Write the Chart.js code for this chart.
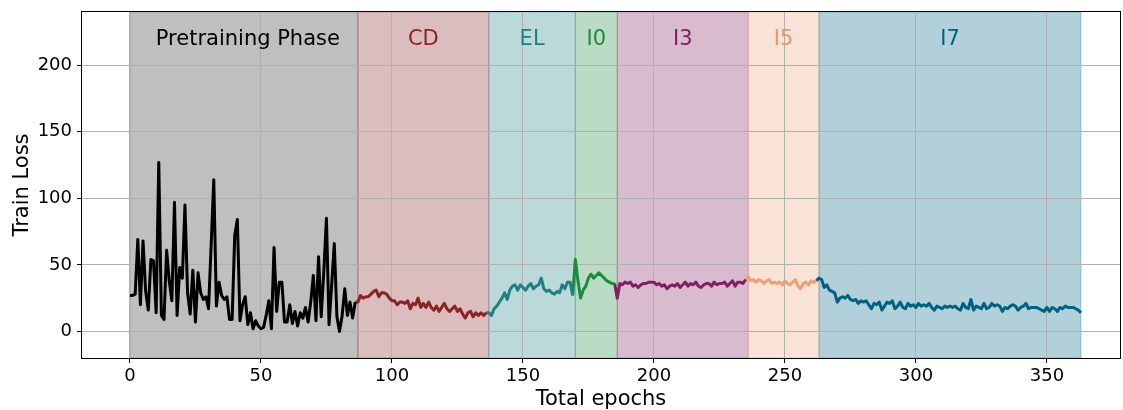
<!DOCTYPE html>
<html>
<head>
<meta charset="utf-8">
<script src="https://cdn.jsdelivr.net/npm/chart.js@4"></script>
<style>
html, body { margin: 0; padding: 0; background: #fff; }
</style>
</head>
<body>
<canvas id="myChart" width="1123" height="410"></canvas>
<script>
// phases of training
const phaseNames = ['Pretraining Phase', 'CD', 'EL', 'I0', 'I3', 'I5', 'I7'];
const phaseStarts = [0, 87, 137, 170, 186, 236, 263];
const phaseEnds = [87, 137, 170, 186, 236, 263, 363];
const labelX = [45, 112, 153.5, 178, 211, 249.5, 313];
const labelY = 219.5;

// train loss per epoch, one list per phase (starting at phaseStarts)
const pretrainLoss = [27, 27, 28, 69, 20, 68, 30, 16, 54, 53, 14, 127, 12, 9, 61, 38, 23, 97, 12, 48,
  40, 95, 29, 13, 46, 7, 44, 29, 24, 26, 17, 65, 114, 19, 37, 27, 24, 26, 9, 9,
  72, 84, 8, 20, 26, 5, 14, 2, 8, 4, 2, 3, 12, 23, 2, 63, 15, 37, 37, 7,
  7, 20, 6, 15, 4, 14, 10, 18, 7, 22, 42, 8, 56, 11, 45, 85, 5, 35, 66, 11,
  0, 12, 32, 12, 22, 10, 22];
const cdLoss = [22, 27, 25, 26, 26, 28, 30, 31, 26, 29, 29, 28, 25, 23, 23, 20, 22, 22, 21, 23,
  17, 21, 20, 25, 18, 21, 18, 22, 18, 16, 19, 15, 18, 21, 17, 15, 17, 19, 15, 17,
  13, 10, 14, 15, 11, 14, 12, 14, 12, 14];
const elLoss = [14, 12, 17, 19, 22, 25, 29, 24, 31, 34, 35, 31, 35, 33, 31, 34, 36, 32, 34, 35,
  40, 32, 30, 31, 29, 28, 30, 29, 35, 32, 37, 37, 27];
const i0Loss = [54, 38, 25, 31, 34, 40, 43, 40, 42, 44, 42, 40, 38, 37, 36, 36];
const i3Loss = [25, 36, 35, 37, 36, 37, 34, 35, 33, 35, 36, 36, 37, 37, 37, 35, 36, 34, 35, 32,
  34, 35, 34, 36, 33, 35, 37, 34, 36, 35, 37, 34, 33, 35, 36, 36, 34, 37, 35, 36,
  36, 37, 34, 36, 38, 34, 37, 37, 36, 39];
const i5Loss = [41, 38, 39, 37, 39, 38, 36, 38, 39, 36, 37, 36, 37, 35, 38, 36, 35, 37, 39, 34,
  32, 36, 37, 35, 38, 37, 38];
const i7Loss = [40, 39, 33, 35, 31, 30, 29, 22, 25, 26, 25, 27, 24, 23, 24, 21, 23, 22, 23, 20,
  17, 21, 20, 22, 16, 19, 22, 21, 23, 17, 19, 22, 18, 17, 21, 19, 20, 18, 21, 19,
  20, 19, 21, 18, 16, 19, 18, 17, 19, 18, 19, 18, 19, 17, 16, 21, 18, 17, 24, 16,
  19, 18, 17, 21, 17, 18, 21, 19, 20, 19, 15, 18, 17, 19, 20, 19, 16, 18, 19, 21,
  17, 18, 18, 18, 17, 16, 15, 18, 15, 18, 17, 15, 18, 17, 19, 18, 18, 18, 17, 16,
  14];

const xTicks = [0, 50, 100, 150, 200, 250, 300, 350];
const yTicks = [0, 50, 100, 150, 200];

const phaseLoss = [pretrainLoss, cdLoss, elLoss, i0Loss, i3Loss, i5Loss, i7Loss];
const lineColors = ['rgb(0,0,0)', 'rgb(139,35,35)', 'rgb(30,128,128)', 'rgb(30,138,60)',
  'rgb(130,30,100)', 'rgb(235,160,120)', 'rgb(0,98,130)'];
const spanColors = ['rgba(128,128,128,0.5)', 'rgba(139,35,35,0.3)', 'rgba(30,128,128,0.3)',
  'rgba(30,138,60,0.3)', 'rgba(130,30,100,0.3)', 'rgba(235,160,120,0.3)', 'rgba(0,98,130,0.3)'];
const labelColors = ['#000', 'rgb(139,35,35)', 'rgb(30,128,128)', 'rgb(30,138,60)',
  'rgb(130,30,100)', 'rgb(235,150,110)', 'rgb(0,98,130)'];

const font = 'DejaVu Sans';

// build datasets, each phase line starts from the previous phase's last point
let datasets = [];
let prev = null;
phaseLoss.forEach((vals, k) => {
  let pts = [];
  if (prev) pts.push(prev);
  vals.forEach((v, i) => pts.push({x: phaseStarts[k] + i, y: v}));
  prev = pts[pts.length - 1];
  datasets.push({
    label: phaseNames[k],
    data: pts,
    borderColor: lineColors[k],
    borderWidth: 3,
    borderJoinStyle: 'round',
    pointRadius: 0,
    tension: 0,
    fill: false
  });
});

const spansPlugin = {
  id: 'spans',
  beforeDraw(chart) {
    const {ctx, chartArea, scales} = chart;
    ctx.save();
    phaseStarts.forEach((s, k) => {
      const x1 = scales.x.getPixelForValue(s);
      const x2 = scales.x.getPixelForValue(phaseEnds[k]);
      ctx.fillStyle = spanColors[k];
      ctx.fillRect(x1, chartArea.top, x2 - x1, chartArea.bottom - chartArea.top);
      ctx.strokeStyle = spanColors[k];
      ctx.lineWidth = 1;
      ctx.strokeRect(x1, chartArea.top, x2 - x1, chartArea.bottom - chartArea.top);
    });
    ctx.restore();
  },
  afterDraw(chart) {
    const {ctx, chartArea, scales} = chart;
    ctx.save();
    ctx.font = '21px "' + font + '"';
    ctx.textAlign = 'center';
    ctx.textBaseline = 'middle';
    phaseNames.forEach((n, k) => {
      ctx.fillStyle = labelColors[k];
      ctx.fillText(n, scales.x.getPixelForValue(labelX[k]), scales.y.getPixelForValue(labelY));
    });
    ctx.strokeStyle = '#000';
    ctx.lineWidth = 1;
    ctx.strokeRect(Math.round(chartArea.left) - 0.5, Math.round(chartArea.top) - 0.5,
      Math.round(chartArea.right - chartArea.left) + 1, Math.round(chartArea.bottom - chartArea.top) + 1);
    ctx.restore();
  }
};

const myChart = document.getElementById('myChart');
let lossChart = new Chart(myChart, {
  type: 'line',
  data: {datasets: datasets},
  plugins: [spansPlugin],
  options: {
    responsive: false,
    animation: false,
    devicePixelRatio: 1,
    layout: {padding: {top: 12, right: 3, left: 0, bottom: 0}},
    plugins: {legend: {display: false}, tooltip: {enabled: false}},
    scales: {
      x: {
        type: 'linear',
        min: -18.3,
        max: 377.9,
        afterFit: s => { s.height = 52; s.paddingLeft = 0; s.paddingRight = 0; },
        afterBuildTicks: s => { s.ticks = xTicks.map(v => ({value: v})); },
        grid: {color: '#b0b0b0', lineWidth: 1, tickLength: 5, tickColor: '#000'},
        border: {display: false},
        ticks: {color: '#000', padding: 3, maxRotation: 0, font: {family: font, size: 18}},
        title: {display: true, text: 'Total epochs', color: '#000', padding: {top: 0, bottom: -2},
          font: {family: font, size: 21}}
      },
      y: {
        min: -20,
        max: 240,
        afterFit: s => { s.width = 82; s.paddingTop = 0; s.paddingBottom = 0; },
        afterBuildTicks: s => { s.ticks = yTicks.map(v => ({value: v})); },
        grid: {color: '#b0b0b0', lineWidth: 1, tickLength: 5, tickColor: '#000'},
        border: {display: false},
        ticks: {color: '#000', padding: 5, font: {family: font, size: 18}},
        title: {display: true, text: 'Train Loss', color: '#000', padding: {top: 10, bottom: 0},
          font: {family: font, size: 21}}
      }
    }
  }
});
</script>
</body>
</html>
